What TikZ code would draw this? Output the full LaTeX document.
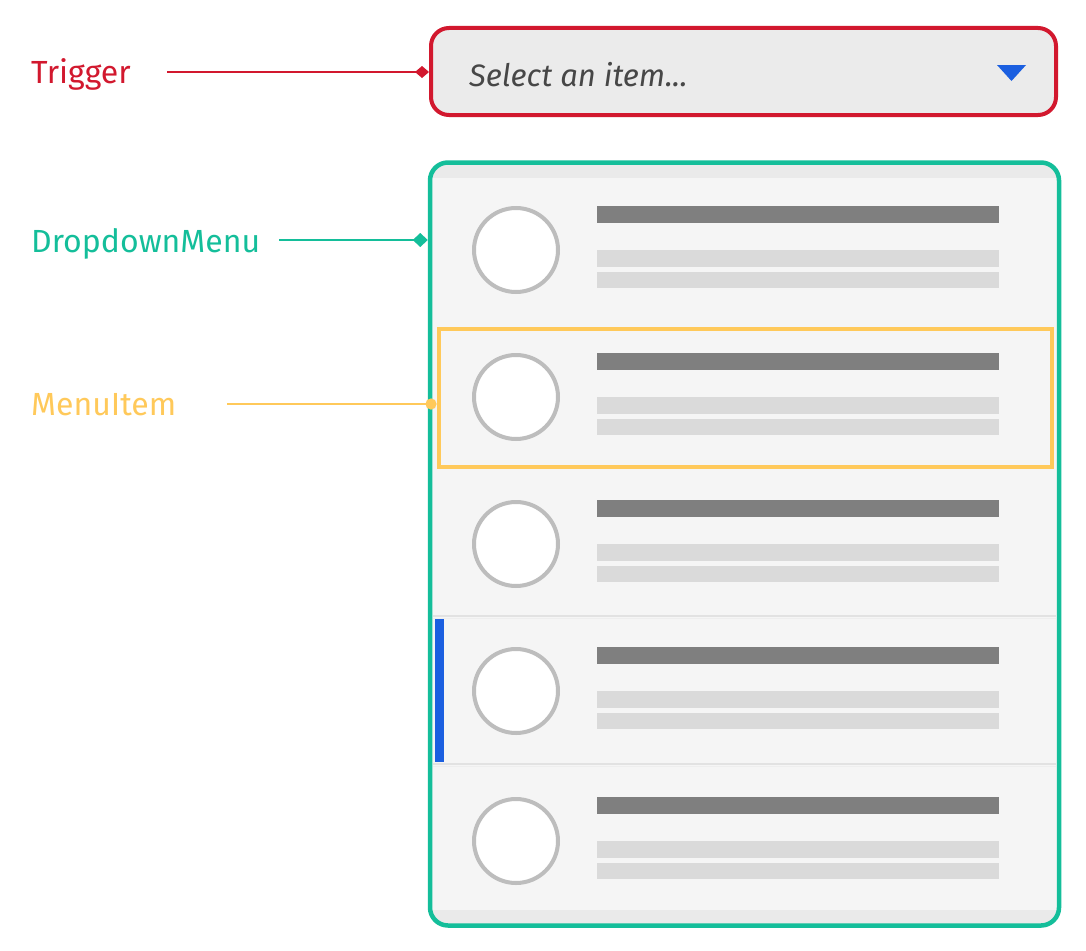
\documentclass[tikz,border=0pt]{standalone}
\usepackage{fontspec}
\setmainfont{Fira Sans}
\usetikzlibrary{arrows.meta,calc}
\definecolor{trigred}{HTML}{D2182E}
\definecolor{menuteal}{HTML}{14BE9A}
\definecolor{itemyellow}{HTML}{FFC95A}
\definecolor{focusblue}{HTML}{1B5FE0}
\definecolor{panelgray}{HTML}{F5F5F5}
\definecolor{stripgray}{HTML}{EAEAEA}
\definecolor{triggerfill}{HTML}{EBEBEB}
\definecolor{darkbar}{HTML}{7F7F7F}
\definecolor{lightbar}{HTML}{DADADA}
\definecolor{ringgray}{HTML}{BDBDBD}
\definecolor{sepgray}{HTML}{E2E2E2}
\definecolor{selecttext}{HTML}{474747}
\tikzset{
  lbl/.style={anchor=base west, inner sep=0pt, font=\fontsize{32}{37}\selectfont},
  conn/.style={line width=2.6pt},
  ringstyle/.style={draw=ringgray, fill=white, line width=4pt},
}
\begin{document}
\begin{tikzpicture}[x=1pt,y=-1pt]
\useasboundingbox[fill=white] (0,0) rectangle (1086,950);

% ---- trigger ----
\node[draw=trigred, fill=triggerfill, line width=4pt, rounded corners=18pt,
      minimum width=625pt, minimum height=87pt, inner sep=0pt] (trigger) at (743.5,71.5) {};
\node[anchor=base west, inner sep=0pt, text=selecttext,
      font=\fontsize{31}{36}\selectfont\itshape] (select) at (469,86) {Select an item...};
\fill[focusblue] (997,65) -- (1026,65) -- (1011.5,81) -- cycle;

% ---- menu panel background ----
\begin{scope}
  \clip[rounded corners=18pt] (430,162.5) rectangle (1059,925.5);
  \fill[panelgray] (430,162.5) rectangle (1059,925.5);
  \fill[stripgray] (430,162.5) rectangle (1059,178);
  \fill[stripgray] (430,910) rectangle (1059,925.5);
\end{scope}

% focused row separators
\draw[sepgray, line width=2.5pt] (433,616) -- (1056,616);
\draw[sepgray!60, line width=1.5pt] (433,618.5) -- (1056,618.5);
\draw[sepgray, line width=2.5pt] (433,764) -- (1056,764);
\draw[sepgray!60, line width=1.5pt] (433,766.5) -- (1056,766.5);
\fill[focusblue] (435,619) rectangle (444,762);

% rows
\foreach \T in {206,353,500,647,797}{
  \draw[ringstyle] (516,\T+44) circle[radius=42pt];
  \fill[darkbar] (597,\T) rectangle (999,\T+17);
  \fill[lightbar] (597,\T+44) rectangle (999,\T+61);
  \fill[lightbar] (597,\T+66) rectangle (999,\T+82);
}

% menu item highlight
\node[draw=itemyellow, line width=4pt, minimum width=613.5pt, minimum height=138pt,
      inner sep=0pt] (item) at (745.25,398) {};

% menu border
\node[draw=menuteal, line width=4.5pt, rounded corners=18pt,
      minimum width=629pt, minimum height=763pt, inner sep=0pt] (menu) at (744.5,544) {};

% ---- labels ----
\node[lbl, text=trigred] (tlabel) at (31,83) {Trigger};
\node[lbl, text=menuteal] (dlabel) at (31,252) {DropdownMenu};
\node[lbl, text=itemyellow] (mlabel) at (31,415) {MenuItem};

\coordinate (tstart) at (167,72);
\coordinate (dstart) at (279,240);
\coordinate (mstart) at (227,404);

\draw[conn, trigred, -{Diamond[length=14pt,width=12pt]}] (tstart) -- (tstart -| trigger.west);
\draw[conn, menuteal, -{Diamond[length=15pt,width=14pt]}] (dstart) -- (dstart -| menu.west);
\draw[conn, itemyellow, -{Circle[length=11pt]}] (mstart) -- (mstart -| item.west);
\end{tikzpicture}
\end{document}
